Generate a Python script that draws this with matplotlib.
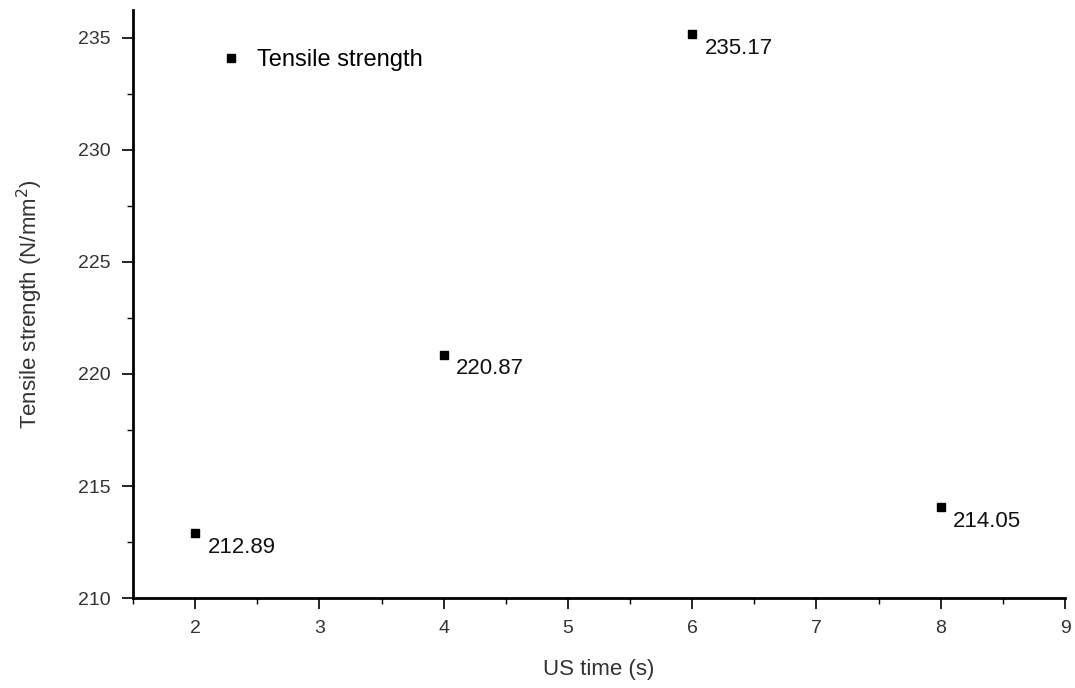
import numpy as np
import matplotlib.pyplot as plt
from matplotlib.ticker import MultipleLocator

# data
us_time = [2, 4, 6, 8]
tensile = [212.89, 220.87, 235.17, 214.05]
labels = ["212.89", "220.87", "235.17", "214.05"]

plt.rcParams['font.family'] = ['Liberation Sans', 'DejaVu Sans']

fig = plt.figure(figsize=(10.75, 6.88), dpi=100)
ax = fig.add_axes([0.1237, 0.1308, 0.8670, 0.8547])

ax.plot(us_time, tensile, 's', color='black', markersize=6, linestyle='none',
        label='Tensile strength')

for x, y, t in zip(us_time, tensile, labels):
    ax.annotate(t, (x, y), xytext=(9, -10), textcoords='offset points',
                ha='left', va='center', fontsize=16, color='#111111')

ax.set_xlim(1.5, 9)
ax.set_ylim(210, 236.25)
ax.xaxis.set_major_locator(MultipleLocator(1))
ax.xaxis.set_minor_locator(MultipleLocator(0.5))
ax.yaxis.set_major_locator(MultipleLocator(5))
ax.yaxis.set_minor_locator(MultipleLocator(2.5))

for s in ['top', 'right']:
    ax.spines[s].set_visible(False)
for s in ['left', 'bottom']:
    ax.spines[s].set_linewidth(2)

ax.tick_params(which='major', direction='out', length=8, width=1.2,
               labelsize=14, labelcolor='#333333', pad=8)
ax.tick_params(which='minor', direction='out', length=4, width=1)

ax.set_xlabel('US time (s)', fontsize=16, color='#333333', labelpad=16)
ax.set_ylabel('Tensile strength (N/mm$^2$)', fontsize=16, color='#333333', labelpad=24)

ax.legend(loc='upper left', bbox_to_anchor=(0.057, 0.97), frameon=False,
          fontsize=17, handletextpad=0.1, markerscale=1.0)

fig.savefig('out.png', dpi=100)
